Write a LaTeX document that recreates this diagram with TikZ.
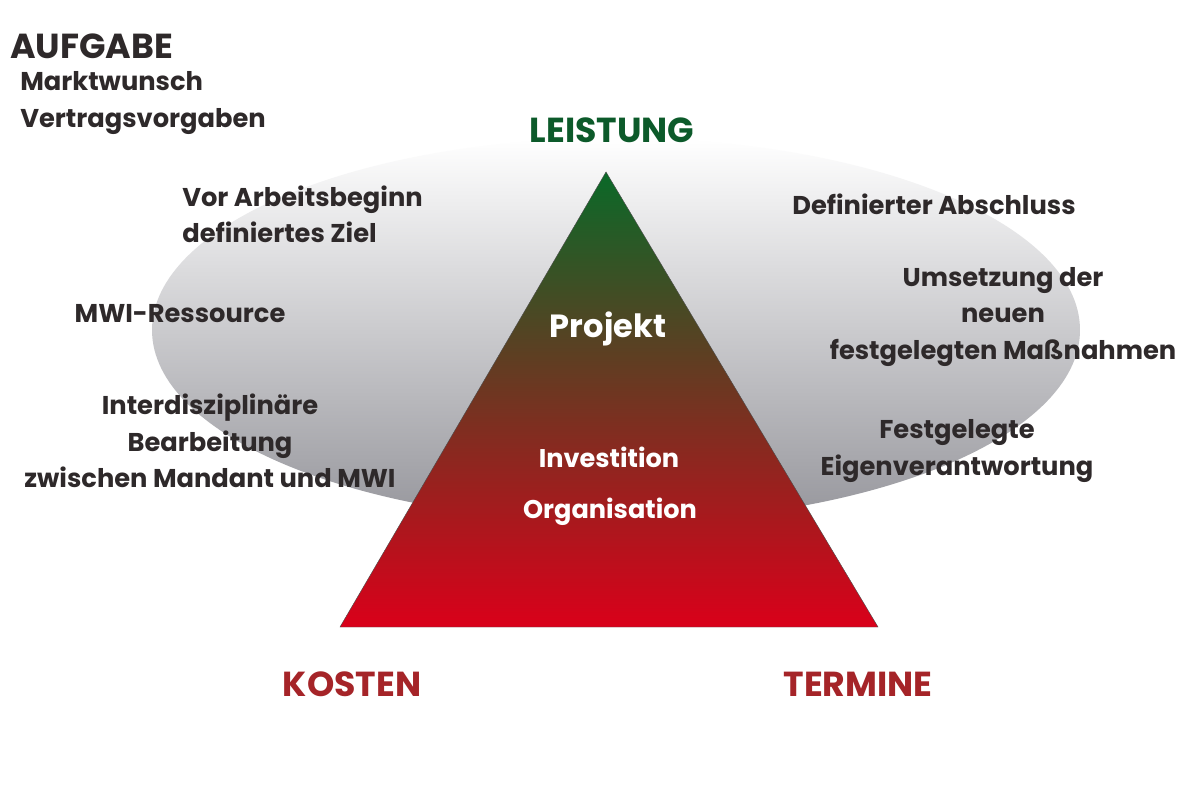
\documentclass[tikz,border=0pt]{standalone}
\usepackage{fontspec}
\setmainfont{Poppins}
\usetikzlibrary{positioning}
\definecolor{txtdark}{RGB}{46,41,42}
\definecolor{leistgreen}{RGB}{12,90,42}
\definecolor{kostred}{RGB}{165,36,40}
\definecolor{trigreen}{RGB}{10,105,40}
\definecolor{trired}{RGB}{218,0,26}
\definecolor{ellgray}{RGB}{150,150,156}

\begin{document}
\begin{tikzpicture}[x=0.025cm,y=-0.025cm,
  lbl/.style={font=\fontsize{18.3}{25.8}\selectfont\bfseries,text=txtdark,inner sep=0pt,align=center},
  corner/.style={font=\fontsize{24.7}{28}\selectfont\bfseries,inner sep=0pt},
  inner/.style={font=\fontsize{18.2}{25}\selectfont\bfseries,text=white,inner sep=0pt}]
  \useasboundingbox (0,0) rectangle (1200,800);
  \fill[white] (0,0) rectangle (1200,800);

  % ── Background ellipse ──
  \shade[top color=white,bottom color=ellgray] (616,330) ellipse [x radius=464,y radius=192];

  % ── Triangle ──
  \coordinate (apex) at (606,172);
  \coordinate (kost) at (340,627);
  \coordinate (term) at (878,627);
  \shade[top color=trigreen,bottom color=trired,draw=black!70,line width=0.3pt]
    (apex) -- (kost) -- (term) -- cycle;

  % ── Corners ──
  \node[corner,text=leistgreen] (leistung) at (612,130) {LEISTUNG};
  \node[corner,text=kostred] (kosten) at (352,684) {KOSTEN};
  \node[corner,text=kostred] (termine) at (858,684) {TERMINE};

  % ── Inside the triangle ──
  \node[inner,font=\fontsize{22.8}{26}\selectfont\bfseries] (projekt) at (608,329) {Projekt};
  \node[inner] (invest) at (609,457) {Investition};
  \node[inner] (orga) at (610,512) {Organisation};

  % ── Task ──
  \node[corner,text=txtdark,anchor=west] (aufgabe) at (10,46) {AUFGABE};
  \node[lbl,anchor=west,align=left] (markt) at (20,103) {Marktwunsch\\Vertragsvorgaben};

  % ── Left side ──
  \node[lbl,anchor=west,align=left] (ziel) at (182,214) {Vor Arbeitsbeginn\\definiertes Ziel};
  \node[lbl] (mwi) at (180,314) {MWI-Ressource};
  \node[lbl] (inter) at (210,441) {Interdisziplinäre\\Bearbeitung\\zwischen Mandant und MWI};

  % ── Right side ──
  \node[lbl,anchor=west] (abschluss) at (792,204) {Definierter Abschluss};
  \node[lbl] (umsetz) at (1003,317) {Umsetzung der\\neuen\\festgelegten Maßnahmen};
  \node[lbl] (eigen) at (957,451) {Festgelegte\\Eigenverantwortung};
\end{tikzpicture}
\end{document}
